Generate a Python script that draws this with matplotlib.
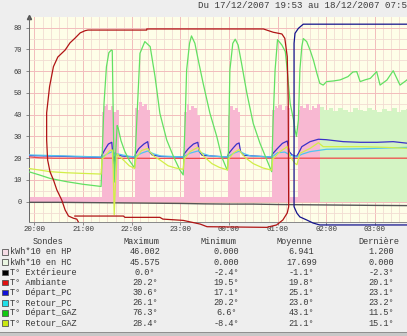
"""
Suivi chauffage PAC / gaz du 17/12/2007 19:53 au 18/12/2007 07:53
- courbes de températures des sondes
- consommation kWh*10 (heures pleines / heures creuses) en aires
- tableau récapitulatif sous le graphe
"""

import numpy as np
import matplotlib
matplotlib.use("Agg")
import matplotlib.pyplot as plt
from matplotlib.patches import Rectangle
from matplotlib.ticker import FixedLocator

W, H = 407, 336
MONO = "Liberation Mono"
TITLE = "Du 17/12/2007 19:53 au 18/12/2007 07:53"

# time axis: hours after 20:00
hour_ticks = [0, 1, 2, 3, 4, 5, 6, 7]
hour_labels = ["20:00", "21:00", "22:00", "23:00", "00:00", "01:00", "02:00", "03:00"]
temp_ticks = [0, 10, 20, 30, 40, 50, 60, 70, 80]

# kWh*10 heures pleines (step series)
hp_t = [-0.12, 1.38, 1.42, 1.47, 1.52, 1.57, 1.62, 1.68, 1.74,
        2.07, 2.11, 2.16, 2.21, 2.26, 2.31, 2.38,
        3.08, 3.13, 3.18, 3.23, 3.28, 3.34, 3.41,
        3.98, 4.03, 4.08, 4.13, 4.18, 4.23,
        4.89, 4.94, 4.99, 5.04, 5.10, 5.16, 5.21, 5.26,
        5.42, 5.47, 5.53, 5.58, 5.64, 5.70, 5.76, 5.82, 5.87, 7.7]
hp_v = [2, 41, 44, 45, 42, 44, 41, 42, 2,
        43, 42, 46, 44, 45, 42, 2,
        41, 45, 42, 44, 43, 40, 2,
        40, 44, 42, 43, 41, 2,
        42, 44, 43, 44.5, 42, 44, 43, 2,
        42, 44, 43, 45, 42, 44, 43, 45, 0, 0]

# kWh*10 heures creuses (step series)
hc_t = [-0.12, 5.87, 5.95, 6.05, 6.15, 6.25, 6.35, 6.45, 6.55, 6.65, 6.75,
        6.85, 6.95, 7.05, 7.15, 7.25, 7.35, 7.45, 7.55, 7.65, 7.7]
hc_v = [0, 43.5, 42, 43, 41.5, 43, 42, 41, 43, 42, 41.5,
        43, 42, 41, 42.5, 41.5, 43, 41, 42, 42.5, 42]

# T° Extérieure
ext_t = [-0.12, 0.5, 1.0, 1.5, 2.0, 2.5, 3.0, 3.5, 4.0, 4.5, 5.0, 5.5, 6.0, 6.5, 7.0, 7.7]
ext_v = [-0.3, -0.3, -0.4, -0.5, -0.6, -0.7, -0.8, -1.0, -1.1, -1.1, -1.3, -1.4, -1.5, -1.6, -1.7, -1.8]

# T° Ambiante
amb_t = [-0.12, 0.1, 0.4, 1.5, 3.0, 4.5, 6.0, 7.7]
amb_v = [20.6, 20.2, 20.0, 20.0, 19.9, 20.0, 20.0, 20.0]

# T° Départ_PC
dpc_t = [-0.12, 0.5, 1.0, 1.37, 1.39, 1.45, 1.52, 1.59, 1.61, 1.64, 1.66, 1.70, 1.80, 2.06,
         2.08, 2.15, 2.25, 2.33, 2.36, 2.42, 2.60, 3.06,
         3.08, 3.17, 3.27, 3.36, 3.39, 3.45, 3.97,
         3.99, 4.08, 4.16, 4.21, 4.24, 4.30, 4.88,
         4.90, 5.00, 5.10, 5.20, 5.24, 5.30, 5.39, 5.43, 5.50, 5.67, 5.84, 6.00,
         6.35, 6.70, 7.05, 7.38, 7.70]
dpc_v = [21.2, 20.9, 20.6, 20.4, 21.5, 24.0, 26.5, 27.3, 22.0, 17.5, 22.5, 21.5, 21.0, 20.5,
         22.0, 24.5, 26.5, 27.6, 23.0, 21.5, 20.8, 20.5,
         22.0, 24.5, 26.5, 27.3, 23.0, 21.3, 20.5,
         22.0, 24.5, 26.5, 27.0, 23.0, 21.3, 20.5,
         22.0, 24.5, 26.8, 27.9, 23.0, 21.5, 20.8, 22.2, 25.3, 27.6, 28.7, 28.5,
         27.6, 27.3, 27.3, 27.6, 26.8]

# T° Retour_PC
rpc_t = [-0.12, 0.5, 1.0, 1.37, 1.39, 1.50, 1.60, 1.63, 1.66, 1.75, 1.90, 2.06,
         2.08, 2.20, 2.33, 2.45, 2.60, 3.06,
         3.08, 3.20, 3.36, 3.48, 3.62, 3.97,
         3.99, 4.10, 4.21, 4.32, 4.45, 4.88,
         4.90, 5.00, 5.15, 5.25, 5.39, 5.50, 5.67, 6.01, 6.70, 7.70]
rpc_v = [21.5, 21.1, 20.8, 20.5, 20.5, 22.0, 23.0, 21.0, 22.0, 21.8, 21.0, 20.6,
         20.8, 22.3, 23.3, 22.0, 21.0, 20.6,
         20.8, 22.3, 23.3, 22.0, 21.0, 20.6,
         20.8, 22.3, 23.2, 22.0, 21.0, 20.6,
         20.8, 22.5, 22.8, 21.5, 20.5, 21.8, 23.0, 24.1, 24.3, 25.0]

# T° Départ_GAZ
dgaz_t = [-0.12, 0.10, 0.32, 0.66, 1.00, 1.37, 1.39, 1.43, 1.48, 1.53, 1.58, 1.60, 1.62, 1.64,
          1.66, 1.70, 1.72, 1.78, 1.86, 1.95, 2.06,
          2.10, 2.17, 2.27, 2.38, 2.48, 2.58, 2.72, 2.86, 2.99, 3.06,
          3.10, 3.13, 3.19, 3.23, 3.30, 3.37, 3.47, 3.61, 3.75, 3.85, 3.95, 3.97,
          3.99, 4.02, 4.08, 4.13, 4.19, 4.26, 4.37, 4.50, 4.64, 4.78, 4.88,
          4.91, 4.95, 5.00, 5.09, 5.16, 5.20, 5.26, 5.33, 5.36, 5.39,
          5.43, 5.46, 5.50, 5.53, 5.60, 5.67, 5.74, 5.81, 5.87, 5.94, 6.01,
          6.15, 6.29, 6.45, 6.55, 6.63, 6.70, 6.80, 6.91, 7.04, 7.11, 7.25, 7.38, 7.52, 7.66, 7.70]
dgaz_v = [13.8, 12.3, 10.7, 9.2, 8.0, 7.0, 20.0, 45.0, 62.0, 68.5, 69.7, 69.5, 40.0, 9.0,
          18.0, 35.0, 34.0, 28.0, 23.0, 19.0, 15.5,
          35.0, 68.2, 73.6, 71.3, 57.5, 40.6, 28.4, 20.7, 14.6, 12.3,
          37.6, 60.5, 72.8, 76.2, 72.8, 65.0, 54.4, 40.6, 30.0, 20.7, 15.3, 14.6,
          23.0, 60.5, 72.8, 74.7, 72.0, 63.6, 49.8, 36.0, 26.8, 19.2, 13.8,
          37.6, 60.5, 74.5, 72.0, 69.0, 60.5, 45.2, 37.6, 33.0, 30.0,
          37.6, 60.5, 71.3, 75.0, 73.6, 69.7, 65.0, 59.0, 54.4, 53.6, 55.2,
          55.5, 56.0, 57.5, 59.6, 59.8, 55.2, 56.0, 56.7, 59.8, 53.6, 55.9, 60.2, 53.6, 55.9, 57.0]

# T° Retour_GAZ
rgaz_t = [-0.12, 0.32, 0.66, 1.00, 1.37, 1.39, 1.45, 1.55, 1.60, 1.62, 1.64, 1.66, 1.70, 1.74,
          1.86, 1.95, 2.06,
          2.09, 2.20, 2.33, 2.37, 2.48, 2.58, 2.75, 2.90, 3.06,
          3.08, 3.20, 3.36, 3.40, 3.50, 3.65, 3.80, 3.97,
          3.99, 4.10, 4.21, 4.25, 4.35, 4.50, 4.70, 4.88,
          4.90, 5.05, 5.20, 5.26, 5.36, 5.40, 5.46, 5.67, 5.84, 5.94, 6.29, 6.70, 7.20, 7.70]
rgaz_v = [15.3, 13.8, 13.3, 13.0, 12.7, 19.5, 21.0, 23.5, 23.8, 15.0, -6.0, 5.0, 22.0, 21.0,
          18.5, 16.5, 15.3,
          20.0, 23.5, 24.5, 23.0, 20.5, 19.2, 16.5, 15.5, 14.9,
          19.5, 23.0, 25.0, 23.5, 20.5, 17.5, 15.8, 14.6,
          19.5, 22.5, 24.0, 22.5, 20.0, 17.5, 15.5, 14.5,
          19.5, 23.0, 25.3, 20.7, 17.6, 17.0, 22.2, 24.5, 27.1, 25.3, 25.3, 25.3, 25.0, 24.5]

# hand-drawn outlines over the chart (red: PAC period, blue: gaz period)
red_outline_t = [0.90, 0.87, 0.80, 0.70, 0.63, 0.56, 0.46, 0.39, 0.32, 0.27, 0.25, 0.25, 0.31,
                 0.39, 0.48, 0.63, 0.73, 0.83, 0.94, 1.04, 1.10, 2.31, 2.31, 4.71, 4.91, 5.09,
                 5.15, 5.20, 5.22, 5.23, 5.20, 5.11, 4.98, 4.78, 3.55, 3.41, 3.06, 2.64, 2.58,
                 1.86, 1.83, 0.83]
red_outline_v = [-9.2, -8.0, -7.6, -6.6, -3.8, 0.8, 5.4, 10.0, 13.7, 19.2, 28.4, 40.8, 52.9,
                 62.1, 66.5, 69.7, 73.0, 75.1, 77.6, 78.6, 78.9, 78.9, 79.4, 79.4, 77.9, 77.1,
                 75.1, 66.7, 46.8, -2.3, -5.2, -8.4, -10.7, -11.8, -11.5, -10.3, -8.6, -8.0, -7.2,
                 -7.2, -6.6, -6.6]
blue_outline_t = [7.7, 5.53, 5.43, 5.36, 5.34, 5.34, 5.40, 5.46, 5.60, 5.73, 5.87, 7.7]
blue_outline_v = [81.6, 81.6, 79.7, 77.4, 72.8, -2.3, -5.3, -7.0, -8.4, -9.8, -10.7, -10.7]

# summary table
sondes = ["kWh*10 en HP", "kWh*10 en HC", "T° Extérieure", "T° Ambiante",
          "T° Départ_PC", "T° Retour_PC", "T° Départ_GAZ", "T° Retour_GAZ"]
maxima = ["46.002", "45.575", "0.0°", "20.2°", "30.6°", "26.1°", "76.3°", "28.4°"]
minima = ["0.000", "0.000", "-2.4°", "19.5°", "17.1°", "20.2°", "6.6°", "-8.4°"]
moyennes = ["6.941", "17.699", "-1.1°", "19.8°", "25.1°", "23.0°", "43.1°", "21.1°"]
dernieres = ["1.200", "0.000", "-2.3°", "20.1°", "23.1°", "23.2°", "11.5°", "15.1°"]
swatch_colors = ["#f6dce6", "#eaf6e2", "#000000", "#e01010",
                 "#1010d8", "#20e0e8", "#10c810", "#c8e810"]

TEXT_COLOR = "#3a3a3a"


def px_x(px):
    return px / W


def px_y(py):
    return 1 - py / H


fig = plt.figure(figsize=(W / 100, H / 100), dpi=100, facecolor="#eeeeee")
ax = fig.add_axes([px_x(29), px_y(221.7), 1 - px_x(29), (221.7 - 17) / H])
ax.set_facecolor("#fefee8")

ax.set_xlim(-0.113, 7.664)
ax.set_ylim(-9.2, 84.9)

# grid: hours / 10 units major, 10 min / 5 units minor
ax.xaxis.set_major_locator(FixedLocator(hour_ticks))
ax.xaxis.set_minor_locator(FixedLocator(np.arange(0, 7.7, 1 / 6)))
ax.yaxis.set_major_locator(FixedLocator(temp_ticks))
ax.yaxis.set_minor_locator(FixedLocator(np.arange(-5, 85, 5)))
ax.set_xticklabels(hour_labels)
ax.grid(which="minor", color="#f2dcd2", lw=0.6, zorder=0)
ax.grid(which="major", color="#f2bcbc", lw=0.7, zorder=0)
ax.set_axisbelow(True)

ax.tick_params(which="minor", length=0)
ax.tick_params(axis="x", which="major", length=2, width=0.6, pad=1.2, colors="#777",
               labelcolor=TEXT_COLOR, labelsize=5.3)
ax.tick_params(axis="y", which="major", length=2, width=0.6, pad=3, colors="#777",
               labelcolor=TEXT_COLOR, labelsize=5.0)
for lab in ax.get_xticklabels() + ax.get_yticklabels():
    lab.set_family(MONO)

for side in ["top", "right"]:
    ax.spines[side].set_visible(False)
ax.spines["left"].set_color("#666")
ax.spines["bottom"].set_color("#888")
ax.spines["left"].set_linewidth(0.7)
ax.spines["bottom"].set_linewidth(0.7)
ax.plot([0], [1.0], marker="^", ms=3, color="#555", transform=ax.transAxes, clip_on=False)

# energy areas
ax.fill_between(hp_t, hp_v, 0, step="post", color="#f8b8d2", lw=0, zorder=1)
ax.fill_between(hc_t, hc_v, 0, step="post", color="#d4f4c4", lw=0, zorder=1)

# temperature probes
lw = 0.9
ax.plot(ext_t, ext_v, color="#555555", lw=1.0, zorder=3)
ax.plot(amb_t, amb_v, color="#f04848", lw=lw, zorder=3)
ax.plot(dpc_t, dpc_v, color="#3a30c8", lw=lw, zorder=3)
ax.plot(rpc_t, rpc_v, color="#50c4f0", lw=lw, zorder=3)
ax.plot(dgaz_t, dgaz_v, color="#62e062", lw=lw, zorder=3)
ax.plot(rgaz_t, rgaz_v, color="#d2ee48", lw=lw, zorder=3)

# outlines
ax.plot(red_outline_t, red_outline_v, color="#b01414", lw=0.9, clip_on=False, zorder=10)
ax.plot(blue_outline_t, blue_outline_v, color="#14148c", lw=0.9, clip_on=False, zorder=10)

# title runs past the right edge, as in the original capture
fig.text(px_x(198), px_y(6), TITLE, ha="left", va="center", family=MONO,
         fontsize=6.6, color=TEXT_COLOR)

# table
fs = 6.2
header_y = 242
headers = [("Sondes", 48), ("Maximum", 141.7), ("Minimum", 218.7),
           ("Moyenne", 294.5), ("Dernière", 379)]
for txt, cx in headers:
    fig.text(px_x(cx), px_y(header_y), txt, ha="center", va="center", family=MONO,
             fontsize=fs, color=TEXT_COLOR)

value_cols = [(maxima, 145), (minima, 226.5), (moyennes, 301.5), (dernieres, 381.5)]
for i, name in enumerate(sondes):
    py = 252 + i * 10.15
    fig.add_artist(Rectangle((px_x(2.3), px_y(py + 2.8)), 5.6 / W, 5.6 / H,
                             transform=fig.transFigure, facecolor=swatch_colors[i],
                             edgecolor="#555", lw=0.6))
    fig.text(px_x(10), px_y(py), name, ha="left", va="center", family=MONO,
             fontsize=fs, color=TEXT_COLOR)
    for values, cx in value_cols:
        fig.text(px_x(cx), px_y(py), values[i], ha="center", va="center", family=MONO,
                 fontsize=fs, color=TEXT_COLOR)

# window edge at the bottom
fig.add_artist(Rectangle((0, 0), 1, 3 / H, transform=fig.transFigure,
                         facecolor="#c8c8c8", edgecolor="none"))
fig.add_artist(Rectangle((0, 3 / H), 1, 1 / H, transform=fig.transFigure,
                         facecolor="#909090", edgecolor="none"))

fig.savefig("out.png", dpi=100, facecolor=fig.get_facecolor())
plt.close(fig)
